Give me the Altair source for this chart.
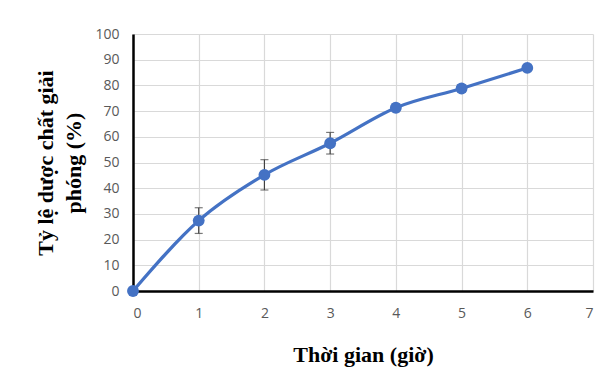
import altair as alt
import pandas as pd

hours = [0, 1, 2, 3, 4, 5, 6]
release = [0.0, 27.4, 45.2, 57.5, 71.3, 78.8, 86.8]
err = [0.0, 5.0, 5.9, 4.2, 1.5, 1.5, 1.0]

df = pd.DataFrame({"t": hours, "y": release, "e": err})
df["lo"] = df["y"] - df["e"]
df["hi"] = df["y"] + df["e"]
df_err = df[df["e"] > 0]

BLUE = "#4472C4"

xax = alt.Axis(values=list(range(8)), format="d", title="Thời gian (giờ)", labelOverlap=False)
yax = alt.Axis(values=list(range(0, 101, 10)), format="d", labelOverlap=False,
               title=["Tỷ lệ dược chất giải", "phóng (%)"])
xs = alt.Scale(domain=[0, 7], nice=False)
ys = alt.Scale(domain=[0, 100], nice=False)


def X(f):
    return alt.X(f, scale=xs, axis=xax)


def Y(f):
    return alt.Y(f, scale=ys, axis=yax)


line = alt.Chart(df).mark_line(color=BLUE, strokeWidth=3.2, interpolate="monotone").encode(x=X("t:Q"), y=Y("y:Q"))
pts = alt.Chart(df).mark_circle(color=BLUE, size=140, opacity=1).encode(x=X("t:Q"), y=Y("y:Q"))
bars = alt.Chart(df_err).mark_rule(color="#404040", strokeWidth=1.2).encode(
    x=X("t:Q"), y=Y("lo:Q"), y2="hi:Q")
cap_lo = alt.Chart(df_err).mark_tick(color="#404040", size=8, thickness=1.2, orient="horizontal").encode(
    x=X("t:Q"), y=Y("lo:Q"))
cap_hi = alt.Chart(df_err).mark_tick(color="#404040", size=8, thickness=1.2, orient="horizontal").encode(
    x=X("t:Q"), y=Y("hi:Q"))

chart = alt.layer(bars, cap_lo, cap_hi, line, pts).properties(
    width=460, height=257,
    autosize=alt.AutoSizeParams(type="none"),
    padding={"left": 125, "top": 26, "right": 6, "bottom": 83},
).configure_view(stroke=None).configure_axis(
    domainColor="black", domainWidth=2.5, ticks=False,
    gridColor="#d9d9d9", gridWidth=1.2,
    labelFont="Open Sans", labelFontSize=14, labelColor="#595959",
    titleFont="Liberation Serif", titleFontSize=22, titleFontWeight="bold", titleColor="black",
    titleLineHeight=28,
).configure_axisX(labelPadding=15, titlePadding=24).configure_axisY(labelPadding=14, titlePadding=9)

chart.save("out.html", embed_options={"renderer": "svg", "actions": False})
